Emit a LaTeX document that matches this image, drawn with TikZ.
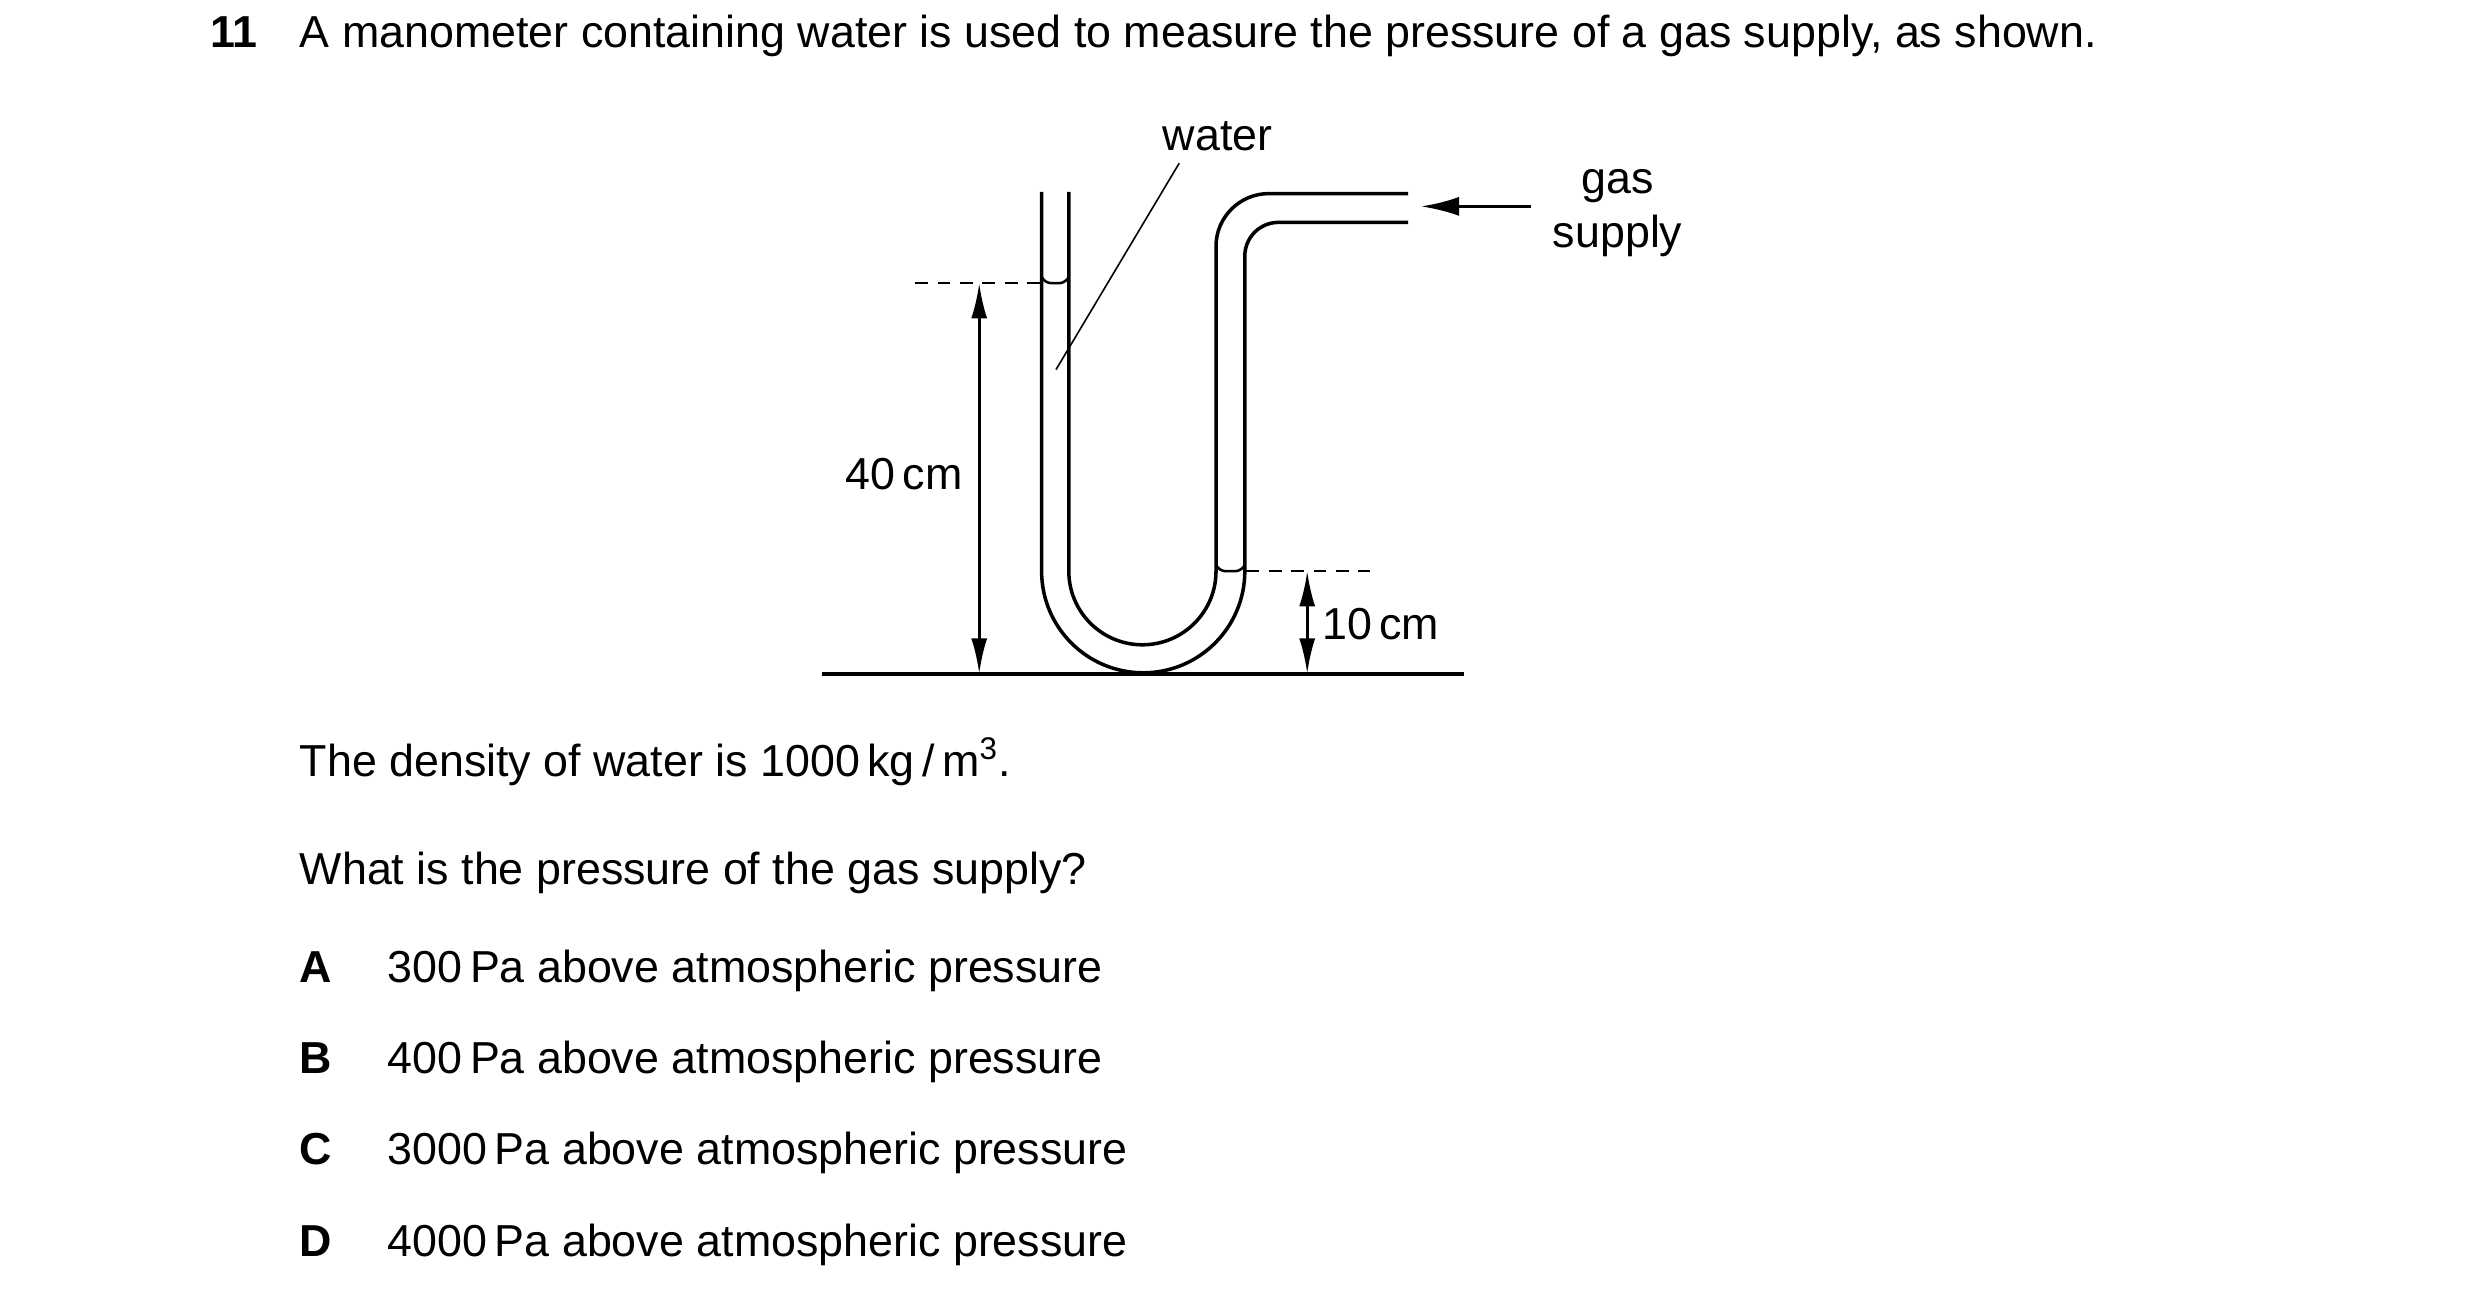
\documentclass[tikz,border=0pt]{standalone}
\usepackage{fontspec}
\setmainfont{Liberation Sans}
\usetikzlibrary{arrows.meta}
\tikzset{
  tube/.style={line width=1.1pt},
  level/.style={line width=0.6pt, dash pattern=on 4pt off 3pt},
  dim/.style={line width=0.9pt, {Latex[length=11pt,width=5pt]}-{Latex[length=11pt,width=5pt]}},
  txt/.style={inner sep=0pt, anchor=base west, font=\fontsize{14}{17}\selectfont},
  lab/.style={inner sep=0pt, anchor=base, font=\fontsize{14}{17}\selectfont}
}
\begin{document}
\begin{tikzpicture}[x=0.5pt, y=-0.5pt]
  \useasboundingbox (0,0) rectangle (1550,806);

  % Question text
  \node[txt] (num) at (131,30) {\bfseries 11};
  \node[txt] (stem) at (187,30) {A manometer containing water is used to measure the pressure of a gas supply, as shown.};

  % U-tube
  \draw[tube] (651,120) -- (651,357) arc[start angle=180, end angle=0, radius=63.5]
    -- (778,160) arc[start angle=180, end angle=270, radius=21] -- (880,139);
  \draw[tube] (668,120) -- (668,357) arc[start angle=180, end angle=0, radius=46]
    -- (760,154) arc[start angle=180, end angle=270, radius=33] -- (880,121);

  % Water surfaces
  \draw[line width=0.8pt, rounded corners=2pt] (651,173) -- (653,177) -- (666,177) -- (668,173);
  \draw[line width=0.8pt, rounded corners=2pt] (760,353) -- (762,357) -- (776,357) -- (778,353);

  % Levels and ground
  \coordinate (topL) at (572,177);
  \coordinate (topR) at (650,177);
  \coordinate (lowL) at (779,357);
  \coordinate (lowR) at (856,357);
  \draw[level] (topL) -- (topR);
  \draw[level] (lowL) -- (lowR);
  \coordinate (gndL) at (514,421);
  \coordinate (gndR) at (915,421);
  \draw[line width=1.2pt] (gndL) -- (gndR);

  % Heights
  \coordinate (h1a) at (612,177);
  \coordinate (h1b) at (612,421);
  \draw[dim] (h1a) -- (h1b);
  \node[lab] (h1) at (565,306) {40\,cm};
  \coordinate (h2a) at (817,357);
  \coordinate (h2b) at (817,421);
  \draw[dim] (h2a) -- (h2b);
  \node[txt] (h2) at (826,400) {10\,cm};

  % Labels
  \node[lab] (water) at (761,94) {water};
  \coordinate (wa) at (737,102);
  \coordinate (wb) at (660,231);
  \draw[line width=0.5pt] (wa) -- (wb);
  \node[lab] (gas) at (1011,121) {gas};
  \node[lab] (supply) at (1011,155) {supply};
  \coordinate (ga) at (957,129);
  \coordinate (gb) at (888,129);
  \draw[line width=1.1pt, -{Latex[length=12pt,width=6pt]}] (ga) -- (gb);

  % Data and options
  \node[txt] (dens) at (187,485) {The density of water is 1000\,kg\,/\,m\textsuperscript{3}.};
  \node[txt] (ask) at (187,553) {What is the pressure of the gas supply?};
  \foreach \l/\v/\y in {A/300/614, B/400/671, C/3000/728, D/4000/785} {
    \node[txt] (opt\l) at (187,\y) {\bfseries \l};
    \node[txt] (ans\l) at (242,\y) {\v\,Pa above atmospheric pressure};
  }
\end{tikzpicture}
\end{document}
